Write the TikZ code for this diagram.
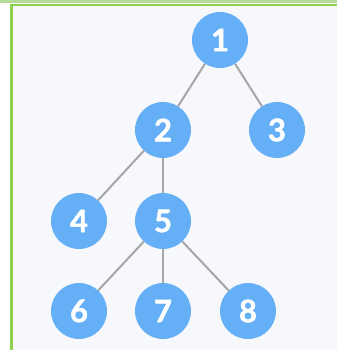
\documentclass[tikz,border=0pt]{standalone}
\usepackage{fontspec}
\setmainfont{Lato}[BoldFeatures={FakeBold=1.6}]
\definecolor{nodeblue}{HTML}{64AFF6}
\definecolor{edgegrey}{HTML}{A6A6A6}
\definecolor{framegreen}{HTML}{8CD24F}
\definecolor{palegreen}{HTML}{B4DC98}
\definecolor{innerbg}{HTML}{F7F8FC}
\tikzset{
  vert/.style={circle, fill=nodeblue, minimum size=56pt, inner sep=0pt, text=white, font=\fontsize{31}{31}\selectfont\bfseries},
  edge/.style={draw=edgegrey, line width=2pt}
}
\begin{document}
\begin{tikzpicture}[x=1pt,y=-1pt]
\useasboundingbox (0,0) rectangle (337,350);
\fill[white] (0,0) rectangle (337,350);
\fill[innerbg] (11,5) rectangle (337,350);
\fill[palegreen] (0,0) rectangle (337,3);
\fill[framegreen] (10,4) rectangle (337,6.5);
\fill[framegreen] (10,4) rectangle (12.5,350);
\node[vert] (n1) at (220,40) {1};
\node[vert] (n2) at (163,130) {2};
\node[vert] (n3) at (277,130) {3};
\node[vert] (n4) at (79,221) {4};
\node[vert] (n5) at (163,221) {5};
\node[vert] (n6) at (79,311) {6};
\node[vert] (n7) at (163,311) {7};
\node[vert] (n8) at (248,311) {8};
\draw[edge] (n1) -- (n2);
\draw[edge] (n1) -- (n3);
\draw[edge] (n2) -- (n4);
\draw[edge] (n2) -- (n5);
\draw[edge] (n5) -- (n6);
\draw[edge] (n5) -- (n7);
\draw[edge] (n5) -- (n8);
\end{tikzpicture}
\end{document}
